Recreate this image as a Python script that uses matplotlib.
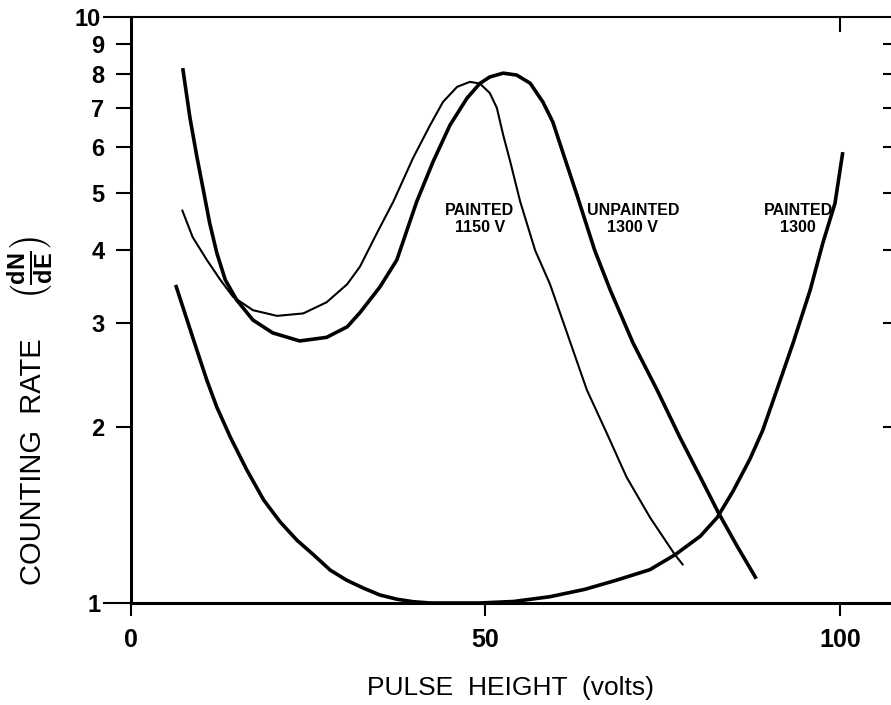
import matplotlib
matplotlib.use("Agg")
import matplotlib.pyplot as plt

plt.rcParams["font.family"] = ["Liberation Sans", "DejaVu Sans"]
plt.rcParams["mathtext.fontset"] = "custom"
plt.rcParams["mathtext.rm"] = "Liberation Sans"
plt.rcParams["mathtext.bf"] = "Liberation Sans:bold"

# unpainted tube at 1300 V (heavy line)
unpaintedX = [7.3, 8.3, 9.3, 10.2, 11.1, 12.1, 13.3, 14.9, 17.2, 20.0, 23.8, 27.6, 30.5, 32.3,
              35.1, 37.5, 40.3, 42.6, 45.0, 47.4, 49.2, 50.6, 52.5, 54.4, 56.3, 58.1, 59.5,
              60.9, 62.9, 65.4, 67.6, 70.8, 74.2, 77.4, 80.3, 82.8, 85.5, 88.2]
unpaintedY = [8.18, 6.75, 5.77, 5.07, 4.45, 3.96, 3.56, 3.29, 3.04, 2.89, 2.80, 2.84, 2.96, 3.13,
              3.46, 3.85, 4.84, 5.66, 6.54, 7.27, 7.70, 7.90, 8.02, 7.96, 7.71, 7.16, 6.62,
              5.88, 4.97, 4.00, 3.42, 2.78, 2.31, 1.92, 1.64, 1.43, 1.25, 1.10]

# painted tube at 1150 V (thin line)
painted1150X = [7.2, 8.7, 10.7, 12.6, 14.4, 17.2, 20.6, 24.3, 27.6, 30.5, 32.3, 34.7, 37.0, 39.8,
                42.2, 44.0, 46.0, 47.8, 49.2, 50.6, 51.6, 52.5, 53.5, 54.9, 57.0, 59.1, 61.5,
                64.3, 67.1, 69.9, 73.2, 76.7, 77.9]
painted1150Y = [4.69, 4.21, 3.85, 3.56, 3.33, 3.16, 3.09, 3.12, 3.26, 3.50, 3.75, 4.28, 4.84, 5.75,
                6.54, 7.16, 7.60, 7.75, 7.70, 7.42, 7.00, 6.29, 5.66, 4.84, 4.00, 3.50, 2.89,
                2.31, 1.95, 1.64, 1.40, 1.21, 1.16]

# painted tube at 1300 V (heavy line)
painted1300X = [6.3, 9.3, 10.7, 12.1, 14.0, 16.3, 18.7, 21.0, 23.4, 25.7, 28.1, 30.4, 32.8, 35.1,
                37.5, 39.8, 42.2, 49.2, 54.0, 59.1, 64.0, 68.5, 73.2, 76.8, 80.3, 82.7, 84.9,
                87.3, 89.1, 91.1, 93.4, 95.8, 97.6, 99.3, 100.4]
painted1300Y = [3.49, 2.70, 2.40, 2.16, 1.92, 1.69, 1.50, 1.377, 1.28, 1.21, 1.138, 1.094, 1.06,
                1.032, 1.015, 1.005, 1.0, 1.0, 1.006, 1.025, 1.055, 1.094, 1.14, 1.21, 1.30,
                1.40, 1.55, 1.76, 1.97, 2.31, 2.78, 3.42, 4.12, 4.81, 5.88]

xTicks = [0, 50, 100]
yMajor = [1, 10]
yMinor = [2, 3, 4, 5, 6, 7, 8, 9]

curveLabels = ["PAINTED\n1150 V", "UNPAINTED\n1300 V", "PAINTED\n1300"]
labelX = [49.2, 70.8, 94.1]
labelY = [4.52, 4.52, 4.52]

fig = plt.figure(figsize=(8.91, 7.05), dpi=100)
ax = fig.add_axes([0.147, 0.1447, 0.853, 0.8312])

ax.plot(unpaintedX, unpaintedY, color="black", lw=2.6, clip_on=False,
        solid_joinstyle="round", solid_capstyle="butt")
ax.plot(painted1150X, painted1150Y, color="black", lw=1.5, clip_on=False,
        solid_joinstyle="round", solid_capstyle="butt")
ax.plot(painted1300X, painted1300Y, color="black", lw=2.6, clip_on=False,
        solid_joinstyle="round", solid_capstyle="butt")

for txt, lx, ly in zip(curveLabels, labelX, labelY):
    ax.text(lx, ly, txt, ha="center", va="center", fontsize=11.5, fontweight="bold",
            multialignment="center", linespacing=1.1)

ax.set_yscale("log")
ax.set_xlim(0, 107.2)
ax.set_ylim(1, 10)

ax.set_xticks(xTicks)
ax.set_xticklabels([str(v) for v in xTicks])
ax.set_yticks(yMajor)
ax.set_yticklabels([str(v) for v in yMajor])
ax.set_yticks(yMinor, minor=True)
ax.set_yticklabels([str(v) for v in yMinor], minor=True)

ax.tick_params(axis="x", direction="out", length=9, width=1.5, pad=9, labelsize=18)
ax.tick_params(axis="y", which="major", direction="out", length=20, width=1.5, pad=2, labelsize=17)
ax.tick_params(axis="y", which="minor", direction="out", length=11, width=1.5, pad=8, labelsize=17)
for lbl in ax.get_xticklabels() + ax.get_yticklabels() + ax.get_yticklabels(minor=True):
    lbl.set_fontweight("bold")

ax.spines["right"].set_visible(False)
ax.spines["left"].set_linewidth(2.2)
ax.spines["bottom"].set_linewidth(2.2)
ax.spines["top"].set_linewidth(1.5)

# short inward ticks on the right edge
axRight = ax.twinx()
axRight.set_yscale("log")
axRight.set_ylim(1, 10)
axRight.set_yticks([])
axRight.set_yticks(yMinor, minor=True)
axRight.set_yticklabels([], minor=True)
axRight.tick_params(axis="y", which="minor", direction="in", length=6, width=1.5)
for s in axRight.spines.values():
    s.set_visible(False)

# single inward tick on the top edge
axTop = ax.twiny()
axTop.set_xlim(ax.get_xlim())
axTop.set_xticks([100])
axTop.set_xticklabels([])
axTop.tick_params(axis="x", direction="in", length=11, width=1.5)
for s in axTop.spines.values():
    s.set_visible(False)

ax.set_xlabel("PULSE  HEIGHT  (volts)", fontsize=19, labelpad=17)

fig.text(0.037, 0.345, "COUNTING  RATE", rotation=90, ha="center", va="center", fontsize=21)
fig.text(0.035, 0.62, r"$\left(\frac{\mathbf{dN}}{\mathbf{dE}}\right)$", rotation=90,
         ha="center", va="center", fontsize=24)

fig.savefig("out.png", dpi=100)
